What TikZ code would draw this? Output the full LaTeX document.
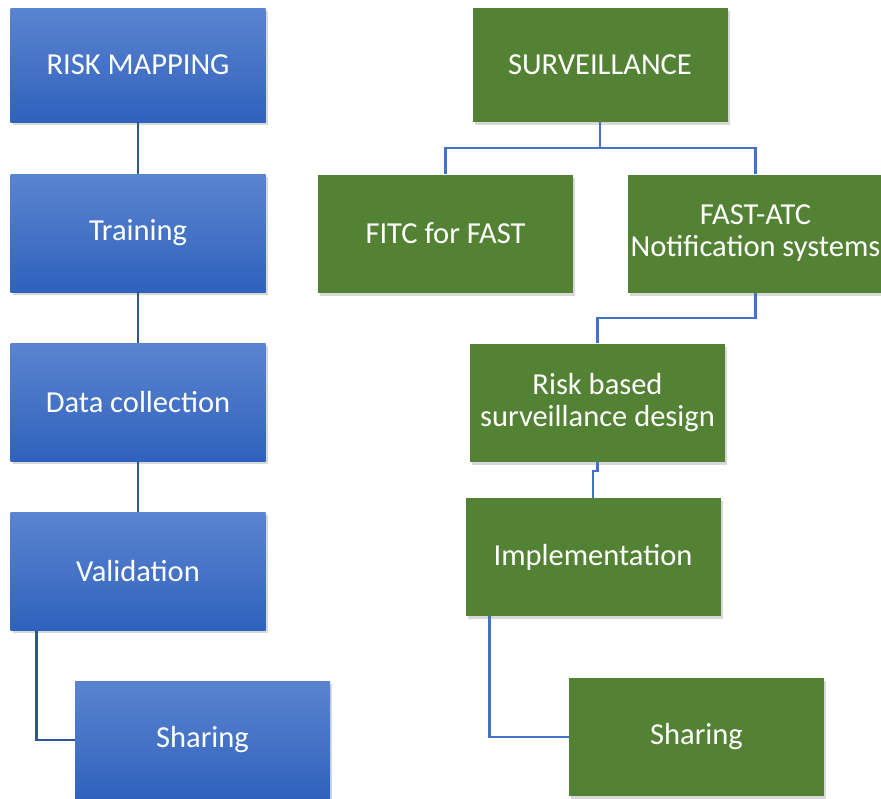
\documentclass[tikz,border=0pt]{standalone}
\usepackage{fontspec}
\setmainfont{Carlito}
\usetikzlibrary{shadows}
\definecolor{riskblue}{HTML}{2F62BD}
\definecolor{risklight}{HTML}{5B84D0}
\definecolor{survgreen}{HTML}{548235}
\definecolor{linkblue}{HTML}{2F5597}
\definecolor{linkright}{HTML}{4472C4}
\begin{document}
\begin{tikzpicture}[x=1pt,y=-1pt,
  box/.style={minimum width=255pt,minimum height=118pt,inner sep=0pt,
    text=white,font=\fontsize{30.5}{32}\selectfont,align=center,
    drop shadow={opacity=0.3,shadow xshift=2pt,shadow yshift=-3pt}},
  bluebox/.style={box,top color=risklight,bottom color=riskblue},
  greenbox/.style={box,fill=survgreen},
  link/.style={draw=linkblue,line width=2.8pt},
  linkR/.style={draw=linkright,line width=2.4pt}]
\clip (0,0) rectangle (881,798);
\fill[white] (0,0) rectangle (881,798);

% risk mapping
\node[bluebox,minimum height=114pt] (riskmap) at (138,65) {RISK MAPPING};
\node[bluebox] (training) at (138,233) {Training};
\node[bluebox] (datacoll) at (138,402) {Data collection};
\node[bluebox] (validation) at (138,571) {Validation};
\node[bluebox] (shareB) at (202.5,740) {Sharing};

\draw[link] (riskmap.south) -- (training.north);
\draw[link] (training.south) -- (datacoll.north);
\draw[link] (datacoll.south) -- (validation.north);
\draw[link] ([xshift=26pt]validation.south west) |- (shareB.west);

% surveillance
\node[greenbox,minimum height=114pt] (surv) at (600,65) {SURVEILLANCE};
\node[greenbox] (fitc) at (445.5,233.5) {FITC for FAST};
\node[greenbox] (fastatc) at (755.5,233.5) {FAST-ATC\\Notification systems};
\node[greenbox] (riskbased) at (597.5,402.5) {Risk based\\surveillance design};
\node[greenbox] (impl) at (593,557) {Implementation};
\node[greenbox] (shareG) at (696.5,737) {Sharing};

\draw[linkR] (surv.south) -- ++(0,26) -| (fitc.north);
\draw[linkR] (surv.south) -- ++(0,26) -| (fastatc.north);
\draw[linkR] (fastatc.south) -- ++(0,25) -| (riskbased.north);
\draw[linkR] (riskbased.south) -- ++(0,9) -| (impl.north);
\draw[linkR] ([xshift=24pt]impl.south west) |- (shareG.west);
\end{tikzpicture}
\end{document}
